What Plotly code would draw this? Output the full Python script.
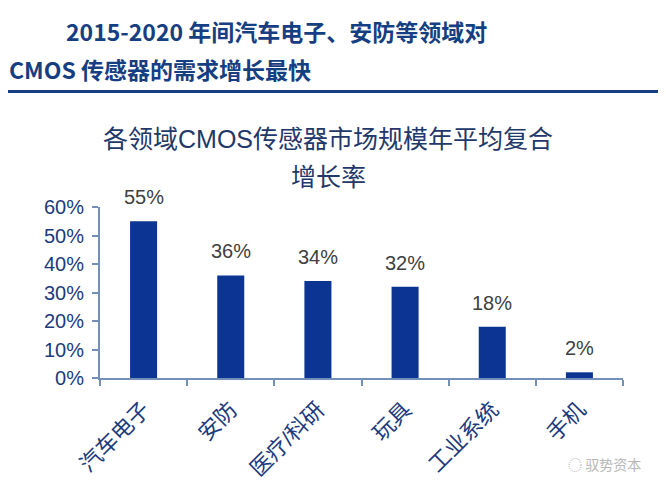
import plotly.graph_objects as go

categories = ["汽车电子", "安防", "医疗/科研", "玩具", "工业系统", "手机"]
cagr = [0.55, 0.36, 0.34, 0.32, 0.18, 0.02]
cagr_labels = ["55%", "36%", "34%", "32%", "18%", "2%"]
y_ticks = [0, 0.1, 0.2, 0.3, 0.4, 0.5, 0.6]
y_tick_labels = ["0%", "10%", "20%", "30%", "40%", "50%", "60%"]

FONT = "Liberation Sans, Arial, Noto Sans CJK SC, sans-serif"
NAVY = "#1c3a7e"
AXIS = "#7391b8"

fig = go.Figure()
fig.add_trace(go.Bar(
    x=categories, y=cagr, width=0.31,
    marker=dict(color="#0b3493", line=dict(width=0)),
    hoverinfo="skip",
))

for c, v, t in zip(categories, cagr, cagr_labels):
    fig.add_annotation(x=c, y=v, text=t, showarrow=False, yanchor="bottom",
                       yshift=11, font=dict(family=FONT, size=20, color="#404040"))

def px(x):
    return (x - 100) / 523

def py(y):
    return (383 - y) / 176

# Main headline
fig.add_annotation(xref="paper", yref="paper", x=px(276), y=py(26),
                   text="<b>2015-2020 年间汽车电子、安防等领域对</b>", showarrow=False,
                   xanchor="center", yanchor="middle",
                   font=dict(family="Noto Sans CJK SC, sans-serif", size=23, color="#163e82"))
fig.add_annotation(xref="paper", yref="paper", x=px(7), y=py(65),
                   text="<b>CMOS 传感器的需求增长最快</b>", showarrow=False,
                   xanchor="left", yanchor="middle",
                   font=dict(family="Noto Sans CJK SC, sans-serif", size=23, color="#163e82"))
fig.add_shape(type="line", xref="paper", yref="paper",
              x0=px(7), x1=px(670), y0=py(88), y1=py(88),
              line=dict(color="#163e82", width=3))

# Chart title
fig.add_annotation(xref="paper", yref="paper", x=px(328), y=py(137),
                   text="各领域CMOS传感器市场规模年平均复合", showarrow=False,
                   xanchor="center", yanchor="middle",
                   font=dict(family=FONT, size=25, color="#22386a"))
fig.add_annotation(xref="paper", yref="paper", x=px(328), y=py(176),
                   text="增长率", showarrow=False,
                   xanchor="center", yanchor="middle",
                   font=dict(family=FONT, size=25, color="#22386a"))

# Watermark
fig.add_annotation(xref="paper", yref="paper", x=px(643), y=py(471),
                   text="◌ 驭势资本", showarrow=False,
                   xanchor="right", yanchor="middle",
                   font=dict(family="Noto Sans CJK SC, sans-serif", size=14, color="#b8b8b8"))

# Page body has an 8px margin, so the figure is 8px smaller than the window.
fig.update_layout(
    width=658, height=485,
    margin=dict(l=92, r=43, t=199, b=110),
    paper_bgcolor="white", plot_bgcolor="white",
    showlegend=False,
    xaxis=dict(
        showline=True, linecolor=AXIS, linewidth=2,
        ticks="outside", tickson="boundaries", ticklen=6, tickcolor=AXIS, tickwidth=2,
        tickangle=-45, ticklabelstandoff=8,
        tickfont=dict(family=FONT, size=22, color=NAVY),
        showgrid=False, zeroline=False,
    ),
    yaxis=dict(
        range=[0, 0.6], tickvals=y_ticks, ticktext=y_tick_labels,
        showline=True, linecolor=AXIS, linewidth=2,
        ticks="outside", ticklen=6, tickcolor=AXIS, tickwidth=2,
        ticklabelstandoff=4,
        tickfont=dict(family=FONT, size=20, color=NAVY),
        showgrid=False, zeroline=False,
    ),
)

fig.write_html("out.html")
